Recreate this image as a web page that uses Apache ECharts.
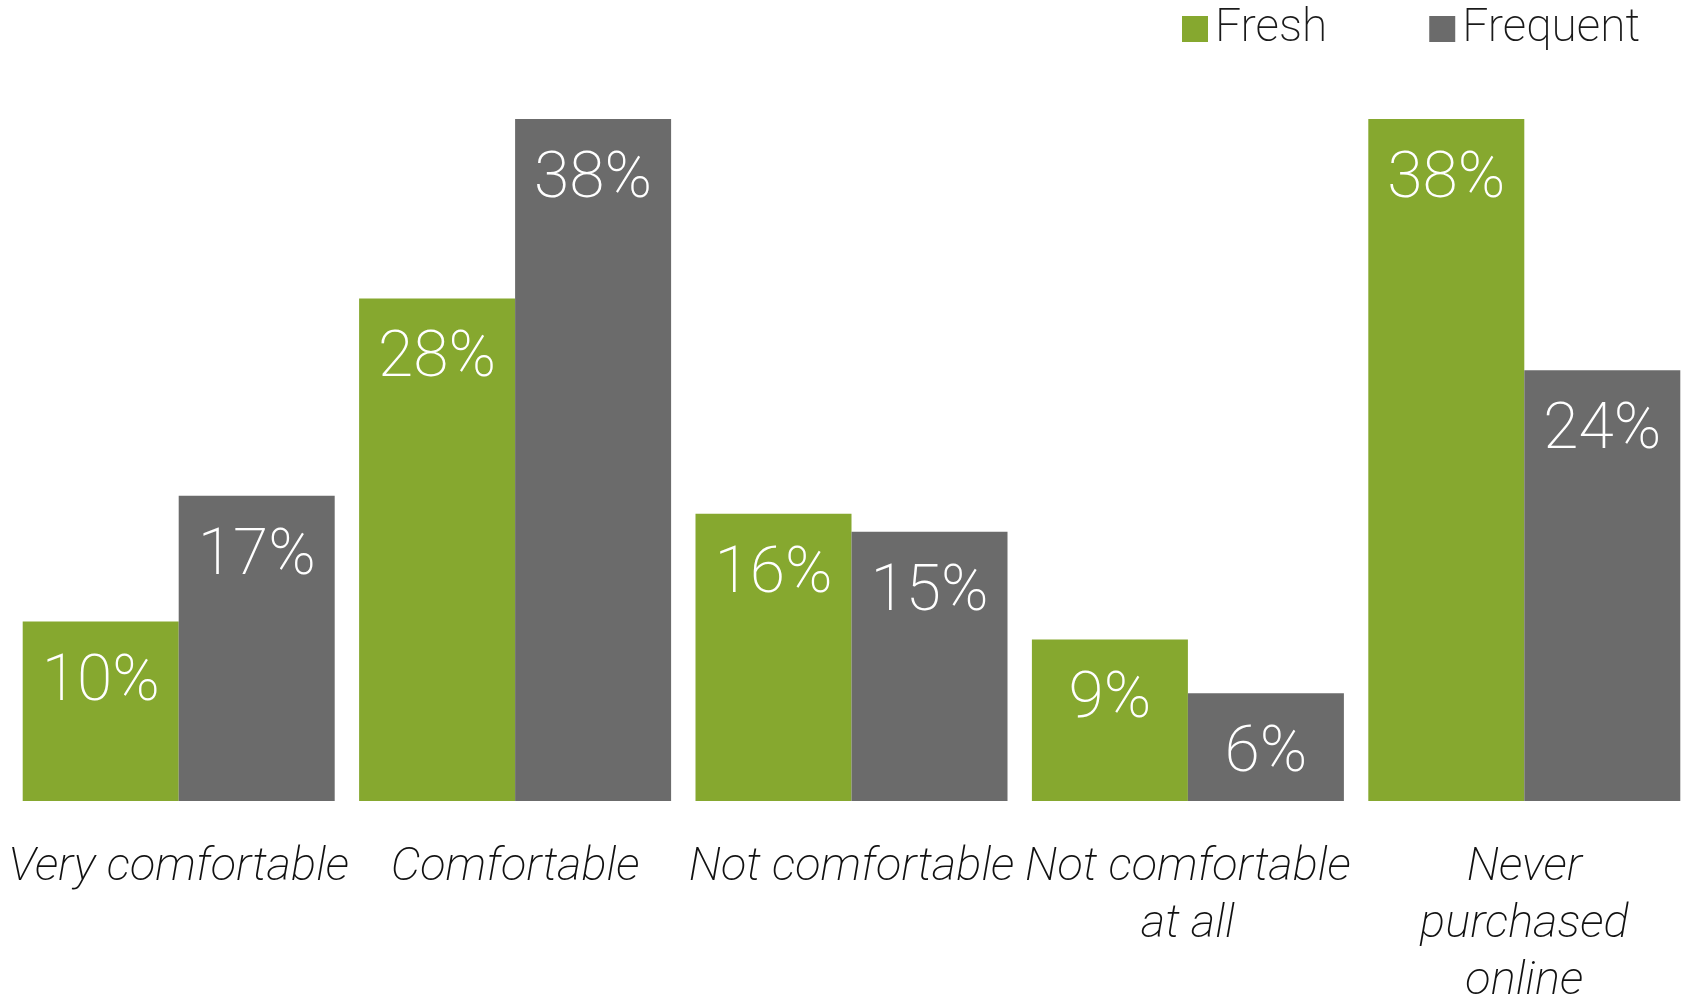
<!DOCTYPE html>
<html>
<head>
<meta charset="utf-8">
<title>Comfort with buying online</title>
<script src="https://cdn.jsdelivr.net/npm/echarts@6/dist/echarts.min.js"></script>
<style>
  html, body { margin: 0; padding: 0; background: #ffffff; overflow: hidden; }
  #chart { width: 1688px; height: 998px; }
</style>
</head>
<body>
<div id="chart"></div>
<script>
// Answer categories (line breaks as shown under the bars)
const categories = [
  'Very comfortable',
  'Comfortable',
  'Not comfortable',
  'Not comfortable\nat all',
  'Never\npurchased\nonline'
];
// Share of respondents, in percent
const freshValues = [10, 28, 16, 9, 38];
const frequentValues = [17, 38, 15, 6, 24];
const seriesNames = ['Fresh', 'Frequent'];

const GREEN = '#86a82f';
const GREY = '#6b6b6b';
const FONT = 'Roboto, "Liberation Sans", sans-serif';
const WEIGHT = 200;

const valueLabel = {
  show: true,
  position: 'insideTop',
  distance: 30,
  color: '#ffffff',
  fontFamily: FONT,
  fontWeight: WEIGHT,
  fontSize: 64,
  lineHeight: 64,
  formatter: p => p.value + '%'
};

const chart = echarts.init(document.getElementById('chart'), null, { renderer: 'canvas' });

chart.setOption({
  animation: false,
  backgroundColor: '#ffffff',
  legend: {
    left: 1177,
    top: 1,
    itemWidth: 26,
    itemHeight: 26,
    itemGap: 102,
    icon: 'rect',
    textStyle: {
      fontFamily: FONT,
      fontWeight: WEIGHT,
      fontSize: 46,
      lineHeight: 44,
      color: '#1a1a1a',
      padding: [0, 0, 0, 2]
    },
    data: seriesNames
  },
  grid: {
    left: 10.5,
    width: 1682,
    top: 83,
    bottom: 197,
    outerBoundsMode: 'none',
    containLabel: false
  },
  xAxis: {
    type: 'category',
    data: categories,
    axisLine: { show: false },
    axisTick: { show: false },
    axisLabel: {
      interval: 0,
      margin: 39,
      color: '#111111',
      fontFamily: FONT,
      fontWeight: WEIGHT,
      fontStyle: 'italic',
      fontSize: 47,
      lineHeight: 57,
      align: 'center'
    }
  },
  yAxis: {
    type: 'value',
    min: 0,
    max: 40,
    show: false,
    splitLine: { show: false }
  },
  series: [
    {
      name: seriesNames[0],
      type: 'bar',
      data: freshValues,
      barWidth: 156,
      barGap: '0%',
      itemStyle: { color: GREEN },
      label: valueLabel
    },
    {
      name: seriesNames[1],
      type: 'bar',
      data: frequentValues,
      barWidth: 156,
      barGap: '0%',
      itemStyle: { color: GREY },
      label: valueLabel
    }
  ]
});
</script>
</body>
</html>
